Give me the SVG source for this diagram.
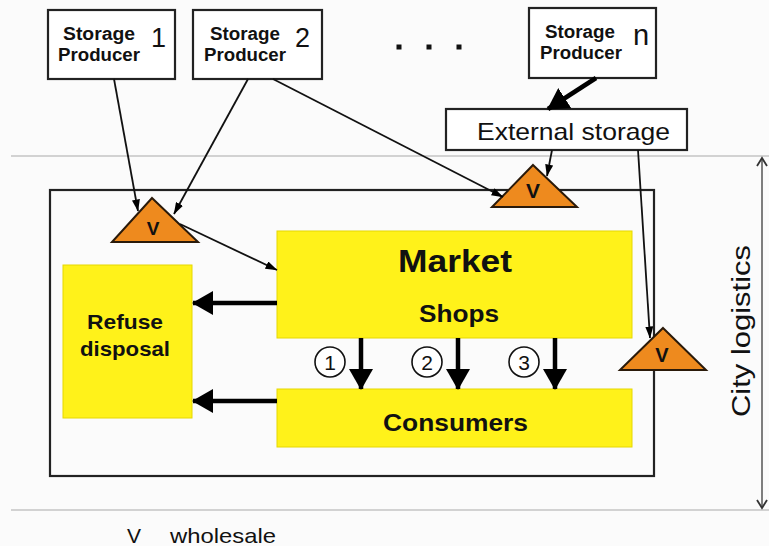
<svg xmlns="http://www.w3.org/2000/svg" width="769" height="546" viewBox="0 0 769 546">
  <defs>
    <style>
      .bg { fill: #fbfbfb; }
      .guide { stroke: #c4c4c4; stroke-width: 1.5; fill: none; }
      .box { fill: #ffffff; stroke: #222; stroke-width: 2.2; }
      .frame { fill: none; stroke: #222; stroke-width: 2.2; }
      .yellow { fill: #fff21a; stroke: #e6d800; stroke-width: 1; }
      .tri { fill: #ee8a1e; stroke: #2a1a0a; stroke-width: 2; stroke-linejoin: miter; }
      .thin { stroke: #111; stroke-width: 1.8; fill: none; }
      .thick { stroke: #000; stroke-width: 4.5; fill: none; }
      .span { stroke: #555; stroke-width: 1.5; fill: none; }
      .circ { fill: #fff; stroke: #111; stroke-width: 1.6; }
      text { font-family: "Liberation Sans", Arial, sans-serif; fill: #111; }
      .b { font-weight: bold; }
      .mid { text-anchor: middle; }
    </style>
    <marker id="ah" viewBox="0 0 12 8" refX="11.5" refY="4" markerWidth="12" markerHeight="8" markerUnits="userSpaceOnUse" orient="auto">
      <path d="M0,0 L12,4 L0,8 z" fill="#000"/>
    </marker>
    <marker id="big" viewBox="0 0 21 24" refX="20" refY="12" markerWidth="21" markerHeight="24" markerUnits="userSpaceOnUse" orient="auto">
      <path d="M0,0 L21,12 L0,24 z" fill="#000"/>
    </marker>
    <marker id="open" viewBox="0 0 12 12" refX="10" refY="6" markerWidth="12" markerHeight="12" markerUnits="userSpaceOnUse" orient="auto">
      <path d="M2,1 L10,6 L2,11" fill="none" stroke="#333" stroke-width="1.8"/>
    </marker>
  </defs>

  <rect class="bg" x="0" y="0" width="769" height="546"/>

  <!-- zone guide lines -->
  <line class="guide" x1="11" y1="156" x2="769" y2="156"/>
  <line class="guide" x1="11" y1="510" x2="769" y2="510"/>

  <!-- city boundary -->
  <rect id="city" class="frame" x="50" y="190" width="604" height="286"/>

  <g id="producer-1">
    <rect class="box" x="48" y="10" width="127" height="69"/>
    <text class="b" x="63" y="40" font-size="18" textLength="72" lengthAdjust="spacingAndGlyphs">Storage</text>
    <text class="b" x="58" y="61" font-size="18" textLength="82" lengthAdjust="spacingAndGlyphs">Producer</text>
    <text x="151" y="47" font-size="27">1</text>
  </g>

  <g id="producer-2">
    <rect class="box" x="193" y="10" width="129" height="69"/>
    <text class="b" x="210" y="40" font-size="18" textLength="70" lengthAdjust="spacingAndGlyphs">Storage</text>
    <text class="b" x="204" y="61" font-size="18" textLength="82" lengthAdjust="spacingAndGlyphs">Producer</text>
    <text x="295" y="47" font-size="27">2</text>
  </g>

  <g id="ellipsis">
    <rect x="396.5" y="44.5" width="5" height="5" fill="#111"/>
    <rect x="426.5" y="44.5" width="5" height="5" fill="#111"/>
    <rect x="456.5" y="44.5" width="5" height="5" fill="#111"/>
  </g>

  <g id="producer-n">
    <rect class="box" x="529" y="8" width="127" height="70"/>
    <text class="b" x="545" y="38" font-size="18" textLength="70" lengthAdjust="spacingAndGlyphs">Storage</text>
    <text class="b" x="540" y="59" font-size="18" textLength="82" lengthAdjust="spacingAndGlyphs">Producer</text>
    <text x="633" y="45" font-size="29">n</text>
  </g>

  <g id="external-storage">
    <rect class="box" x="446" y="109" width="241" height="41"/>
    <text x="477" y="140" font-size="24" textLength="193" lengthAdjust="spacingAndGlyphs">External storage</text>
  </g>

  <g id="wholesale-1">
    <polygon class="tri" points="152,198 198,242 112,242"/>
    <text class="b mid" x="153" y="235" font-size="19">V</text>
  </g>

  <g id="wholesale-2">
    <polygon class="tri" points="533,165 577,207 492,207"/>
    <text class="b mid" x="533" y="198" font-size="21">V</text>
  </g>

  <g id="wholesale-3">
    <polygon class="tri" points="663,328 706,370 620,370"/>
    <text class="b mid" x="662" y="362" font-size="20">V</text>
  </g>

  <g id="market">
    <rect class="yellow" x="277" y="231" width="355" height="107"/>
    <text class="b" x="398" y="272" font-size="32" textLength="114" lengthAdjust="spacingAndGlyphs">Market</text>
    <text class="b" x="419" y="322" font-size="23" textLength="80" lengthAdjust="spacingAndGlyphs">Shops</text>
  </g>

  <g id="consumers">
    <rect class="yellow" x="277" y="389" width="355" height="58"/>
    <text class="b" x="383" y="431" font-size="23" textLength="145" lengthAdjust="spacingAndGlyphs">Consumers</text>
  </g>

  <g id="refuse">
    <rect class="yellow" x="63" y="265" width="129" height="153"/>
    <text class="b" x="87" y="329" font-size="21" textLength="76" lengthAdjust="spacingAndGlyphs">Refuse</text>
    <text class="b" x="80" y="356" font-size="21" textLength="90" lengthAdjust="spacingAndGlyphs">disposal</text>
  </g>

  <g id="channels">
    <circle class="circ" cx="330" cy="362" r="15"/>
    <text class="mid" x="330" y="370" font-size="21">1</text>
    <circle class="circ" cx="427" cy="362" r="15"/>
    <text class="mid" x="427" y="370" font-size="21">2</text>
    <circle class="circ" cx="524" cy="362" r="15"/>
    <text class="mid" x="524" y="370" font-size="21">3</text>
  </g>

  <g id="connectors">
    <line class="thin" x1="114" y1="79" x2="138" y2="211" marker-end="url(#ah)"/>
    <line class="thin" x1="248" y1="79" x2="174" y2="214" marker-end="url(#ah)"/>
    <line class="thin" x1="273" y1="79" x2="503" y2="197" marker-end="url(#ah)"/>
    <line class="thick" x1="596" y1="78" x2="548" y2="109" marker-end="url(#big)"/>
    <line class="thin" x1="552" y1="150" x2="547" y2="176" marker-end="url(#ah)"/>
    <line class="thin" x1="638" y1="150" x2="650" y2="338" marker-end="url(#ah)"/>
    <line class="thin" x1="180" y1="224" x2="277" y2="270" marker-end="url(#ah)"/>
    <line class="thick" x1="277" y1="303" x2="193" y2="303" marker-end="url(#big)"/>
    <line class="thick" x1="277" y1="401" x2="193" y2="401" marker-end="url(#big)"/>
    <line class="thick" x1="361" y1="338" x2="361" y2="389" marker-end="url(#big)"/>
    <line class="thick" x1="458" y1="338" x2="458" y2="389" marker-end="url(#big)"/>
    <line class="thick" x1="555" y1="338" x2="555" y2="389" marker-end="url(#big)"/>
  </g>

  <g id="city-logistics">
    <line class="span" x1="762" y1="333" x2="762" y2="158" marker-end="url(#open)"/>
    <line class="span" x1="762" y1="333" x2="762" y2="508" marker-end="url(#open)"/>
    <text transform="translate(750,417) rotate(-90)" x="0" y="0" font-size="25" textLength="172" lengthAdjust="spacingAndGlyphs">City logistics</text>
  </g>

  <g id="legend">
    <text x="127" y="543" font-size="21">V</text>
    <text x="170" y="543" font-size="21" textLength="106" lengthAdjust="spacingAndGlyphs">wholesale</text>
  </g>
</svg>
